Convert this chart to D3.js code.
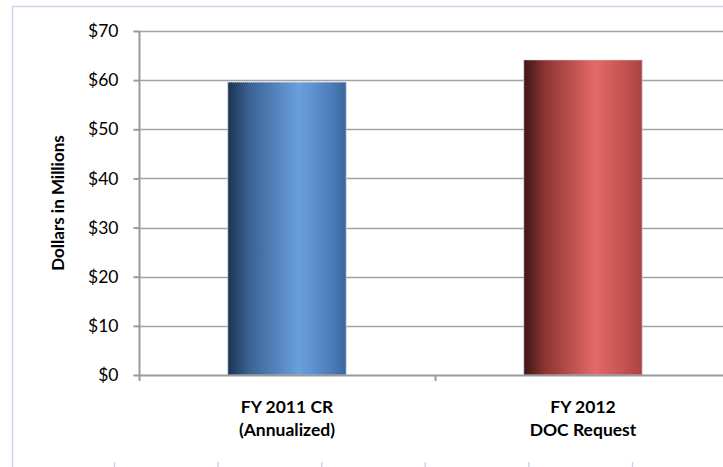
<!DOCTYPE html>
<html>
<head>
<meta charset="utf-8">
<script src="https://cdn.jsdelivr.net/npm/d3@7"></script>
<style>
  html, body { margin: 0; padding: 0; background: #fff; }
  svg { display: block; }
  text { font-family: "Lato", "Open Sans", sans-serif; fill: #000; }
</style>
</head>
<body>
<svg id="chart" width="723" height="467"></svg>
<script>
// Budget categories and amounts (millions of dollars)
const categories = [["FY 2011 CR", "(Annualized)"], ["FY 2012", "DOC Request"]];
const categoryKeys = ["FY 2011 CR (Annualized)", "FY 2012 DOC Request"];
const values = [59.6, 64.1];
const yTicks = [0, 10, 20, 30, 40, 50, 60, 70];
const yTitle = "Dollars in Millions";

const svg = d3.select("#chart");
const W = 723, H = 467;
const margin = { left: 139, top: 31, bottom: 375, right: 731 };

// Outer chart frame
svg.append("rect")
  .attr("x", 12.5).attr("y", 6.5)
  .attr("width", 800).attr("height", 600)
  .attr("fill", "none").attr("stroke", "#c9d5e8").attr("stroke-width", 1.5);

// faint frame marks along the bottom
d3.range(6).forEach(i => {
  svg.append("line")
    .attr("x1", 114.5 + i * 103.6).attr("x2", 114.5 + i * 103.6)
    .attr("y1", 462).attr("y2", 467)
    .attr("stroke", "#c9d5e8").attr("stroke-width", 1.5);
});

const x = d3.scaleBand()
  .domain(categoryKeys)
  .range([margin.left, margin.right])
  .paddingInner(0.6)
  .paddingOuter(0.3);

const y = d3.scaleLinear().domain([0, 70]).range([margin.bottom, margin.top]);

// Gradients for the cylindrical-looking bars
const defs = svg.append("defs");
const grads = [
  { id: "gBlue", stops: [["0%", "#1c334f"], ["18%", "#3a6294"], ["60%", "#6a9fde"], ["85%", "#4f80be"], ["100%", "#3c669c"]] },
  { id: "gRed", stops: [["0%", "#3e1616"], ["18%", "#8e3433"], ["60%", "#e36a68"], ["85%", "#c45250"], ["100%", "#a94442"]] }
];
grads.forEach(g => {
  const lg = defs.append("linearGradient").attr("id", g.id)
    .attr("x1", "0%").attr("x2", "100%").attr("y1", "0%").attr("y2", "0%");
  g.stops.forEach(s => lg.append("stop").attr("offset", s[0]).attr("stop-color", s[1]));
});

// Horizontal gridlines
svg.append("g")
  .selectAll("line")
  .data(yTicks.filter(d => d > 0))
  .join("line")
  .attr("x1", margin.left).attr("x2", W)
  .attr("y1", d => Math.round(y(d)) + 0.5).attr("y2", d => Math.round(y(d)) + 0.5)
  .attr("stroke", "#a3a3a3").attr("stroke-width", 1.3);

// Bars
svg.append("g")
  .selectAll("rect")
  .data(values)
  .join("rect")
  .attr("x", (d, i) => x(categoryKeys[i]))
  .attr("y", d => y(d))
  .attr("width", x.bandwidth())
  .attr("height", d => y(0) - y(d))
  .attr("fill", (d, i) => i === 0 ? "url(#gBlue)" : "url(#gRed)")
  .attr("stroke", "#d8d8e0")
  .attr("stroke-width", 1.2)
  .attr("stroke-dasharray", "1,1");

// Y axis
const yAxis = d3.axisLeft(y)
  .tickValues(yTicks)
  .tickFormat(d => "$" + d)
  .tickSize(6)
  .tickPadding(15);
const gy = svg.append("g")
  .attr("transform", `translate(${margin.left + 0.5},0)`)
  .call(yAxis);
gy.select(".domain").attr("stroke", "#9a9a9a").attr("stroke-width", 2)
  .attr("d", `M0,${margin.top}V${margin.bottom}`);
gy.selectAll(".tick line").attr("stroke", "#9a9a9a").attr("stroke-width", 2);
gy.selectAll(".tick text")
  .attr("font-size", 17.5)
  .attr("font-family", "Lato, 'Open Sans', sans-serif")
  .attr("fill", "#000");

// X axis with a tick at the category boundary
const gx = svg.append("g");
gx.append("line")
  .attr("x1", margin.left).attr("x2", W)
  .attr("y1", y(0) + 0.5).attr("y2", y(0) + 0.5)
  .attr("stroke", "#9a9a9a").attr("stroke-width", 2);
const boundaries = [margin.left, (x(categoryKeys[0]) + x.bandwidth() + x(categoryKeys[1])) / 2];
gx.selectAll(".bt")
  .data(boundaries)
  .join("line")
  .attr("class", "bt")
  .attr("x1", d => d + 0.5).attr("x2", d => d + 0.5)
  .attr("y1", y(0)).attr("y2", y(0) + 6)
  .attr("stroke", "#9a9a9a").attr("stroke-width", 2);

// Category labels (two lines each)
const lbl = svg.append("g")
  .selectAll("text")
  .data(categories)
  .join("text")
  .attr("text-anchor", "middle")
  .attr("font-size", 17.5)
  .attr("font-weight", "bold")
  .attr("x", (d, i) => x(categoryKeys[i]) + x.bandwidth() / 2);
lbl.each(function(d, i) {
  const t = d3.select(this);
  d.forEach((line, j) => {
    t.append("tspan")
      .attr("x", x(categoryKeys[i]) + x.bandwidth() / 2)
      .attr("y", 413 + j * 22.5)
      .text(line);
  });
});

// Y axis title
svg.append("text")
  .attr("transform", `translate(64,${(margin.top + margin.bottom) / 2}) rotate(-90)`)
  .attr("text-anchor", "middle")
  .attr("font-size", 17)
  .attr("font-weight", "bold")
  .text(yTitle);
</script>
</body>
</html>
